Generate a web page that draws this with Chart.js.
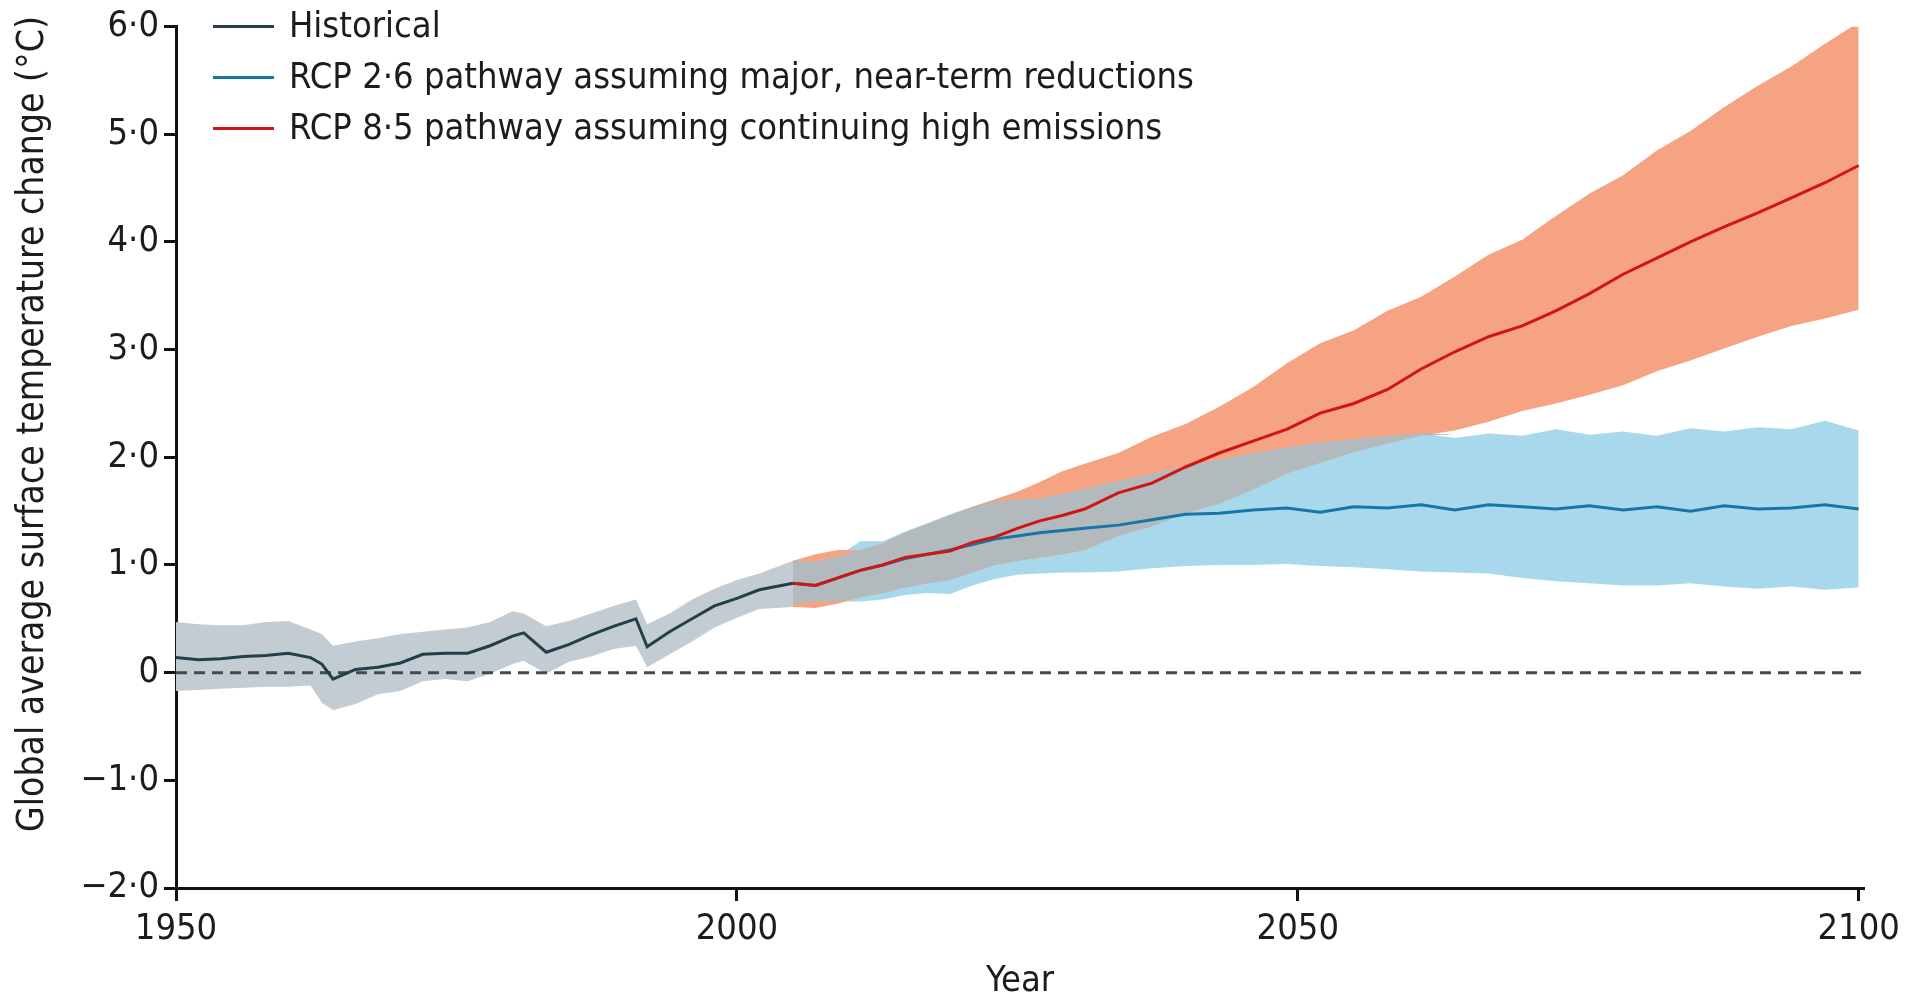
<!DOCTYPE html>
<html>
<head>
<meta charset="utf-8">
<title>Global average surface temperature change</title>
<script src="https://cdn.jsdelivr.net/npm/chart.js@4.4.1/dist/chart.umd.min.js"></script>
<style>
  html, body { margin: 0; padding: 0; background: #fff; }
  #chart { display: block; }
</style>
</head>
<body>
<canvas id="chart" width="1907" height="998"></canvas>
<script>
// Historical record
const histYears = [1950, 1952, 1954, 1956, 1958, 1960, 1962, 1963, 1964, 1966, 1968, 1970, 1972, 1974, 1976,
  1978, 1980, 1981, 1983, 1985, 1987, 1989, 1991, 1992, 1994, 1996, 1998, 2000, 2002, 2005];
const histMean = [0.14, 0.12, 0.13, 0.15, 0.16, 0.18, 0.14, 0.08, -0.06, 0.03, 0.05, 0.09, 0.17, 0.18, 0.18,
  0.25, 0.34, 0.37, 0.19, 0.26, 0.35, 0.43, 0.50, 0.24, 0.38, 0.50, 0.62, 0.69, 0.77, 0.83];
const histUpper = [0.47, 0.45, 0.44, 0.44, 0.47, 0.48, 0.40, 0.36, 0.25, 0.29, 0.32, 0.36, 0.38, 0.40, 0.42,
  0.47, 0.57, 0.55, 0.43, 0.48, 0.55, 0.62, 0.68, 0.45, 0.55, 0.68, 0.78, 0.86, 0.92, 1.04];
const histLower = [-0.17, -0.16, -0.15, -0.14, -0.13, -0.13, -0.12, -0.28, -0.35, -0.29, -0.20, -0.17, -0.08, -0.06, -0.08,
  -0.01, 0.08, 0.11, -0.01, 0.10, 0.15, 0.22, 0.25, 0.05, 0.17, 0.29, 0.42, 0.51, 0.59, 0.61];

// Projections
const projYears = [2005, 2007, 2009, 2011, 2013, 2015, 2017, 2019, 2021, 2023, 2025, 2027, 2029, 2031, 2034, 2037,
  2040, 2043, 2046, 2049, 2052, 2055, 2058, 2061, 2064, 2067, 2070, 2073, 2076, 2079, 2082, 2085, 2088, 2091,
  2094, 2097, 2100];
const rcp26Mean = [0.83, 0.81, 0.88, 0.95, 1.00, 1.06, 1.10, 1.14, 1.19, 1.24, 1.27, 1.30, 1.32, 1.34, 1.37, 1.42,
  1.47, 1.48, 1.51, 1.53, 1.49, 1.54, 1.53, 1.56, 1.51, 1.56, 1.54, 1.52, 1.55, 1.51, 1.54, 1.50, 1.55, 1.52,
  1.53, 1.56, 1.52];
const rcp26Upper = [1.04, 1.03, 1.08, 1.22, 1.22, 1.31, 1.39, 1.47, 1.54, 1.59, 1.61, 1.62, 1.66, 1.71, 1.78, 1.85,
  1.92, 1.98, 2.04, 2.09, 2.14, 2.17, 2.20, 2.22, 2.18, 2.22, 2.20, 2.26, 2.21, 2.24, 2.20, 2.27, 2.24, 2.28,
  2.26, 2.34, 2.25];
const rcp26Lower = [0.64, 0.66, 0.66, 0.66, 0.68, 0.72, 0.74, 0.73, 0.81, 0.87, 0.91, 0.92, 0.93, 0.93, 0.94, 0.97,
  0.99, 1.00, 1.00, 1.01, 0.99, 0.98, 0.96, 0.94, 0.93, 0.92, 0.88, 0.85, 0.83, 0.81, 0.81, 0.83, 0.80, 0.78,
  0.80, 0.77, 0.79];
const rcp85Mean = [0.83, 0.81, 0.88, 0.95, 1.00, 1.07, 1.10, 1.13, 1.21, 1.26, 1.34, 1.41, 1.46, 1.52, 1.67, 1.76,
  1.91, 2.04, 2.15, 2.26, 2.41, 2.50, 2.63, 2.82, 2.98, 3.12, 3.22, 3.36, 3.52, 3.70, 3.85, 4.00, 4.14, 4.27,
  4.41, 4.55, 4.71];
const rcp85Upper = [1.04, 1.10, 1.14, 1.14, 1.20, 1.30, 1.38, 1.46, 1.54, 1.61, 1.68, 1.77, 1.87, 1.94, 2.04, 2.19,
  2.31, 2.47, 2.65, 2.87, 3.06, 3.18, 3.36, 3.49, 3.68, 3.88, 4.02, 4.24, 4.45, 4.62, 4.85, 5.03, 5.25, 5.45,
  5.63, 5.84, 6.04];
const rcp85Lower = [0.61, 0.60, 0.64, 0.70, 0.74, 0.79, 0.83, 0.86, 0.93, 1.00, 1.04, 1.07, 1.10, 1.14, 1.27, 1.36,
  1.48, 1.57, 1.70, 1.85, 1.95, 2.05, 2.13, 2.20, 2.25, 2.33, 2.43, 2.50, 2.58, 2.67, 2.80, 2.90, 3.01, 3.12,
  3.22, 3.29, 3.37];

const yTicks = [-2, -1, 0, 1, 2, 3, 4, 5, 6];
const yTickLabels = ['\u22122\u00b70', '\u22121\u00b70', '0', '1\u00b70', '2\u00b70', '3\u00b70', '4\u00b70', '5\u00b70', '6\u00b70'];
const xTicks = [1950, 2000, 2050, 2100];
const xTickLabels = ['1950', '2000', '2050', '2100'];

const xTitle = 'Year';
const yTitle = 'Global average surface temperature change (\u00b0C)';
const labelHist = 'Historical';
const label26 = 'RCP 2\u00b76 pathway assuming major, near-term reductions';
const label85 = 'RCP 8\u00b75 pathway assuming continuing high emissions';

const FONT = "'DejaVu Sans Condensed', 'DejaVu Sans', sans-serif";
const FONT_SIZE = 36;
const INK = '#1c1c1c';

const C = {
  histLine: '#233f4b', histBand: '#c4ccd3',
  line26: '#1677a6', band26: '#a8d8eb',
  line85: '#d01515', band85: '#f5a382',
  overlap: '#b3babd', zero: '#3d4c52'
};

function pts(xs, ys) {
  return xs.map((x, i) => ({ x: x, y: ys[i] }));
}

// grey where the two projection ranges overlap
const overlapUpper = projYears.map((_, i) => Math.min(rcp26Upper[i], rcp85Upper[i]));
const overlapLower = projYears.map((_, i) => Math.max(rcp26Lower[i], rcp85Lower[i]));
for (let i = 0; i < projYears.length; i++) {
  if (overlapUpper[i] < overlapLower[i]) {
    const mid = (overlapUpper[i] + overlapLower[i]) / 2;
    overlapUpper[i] = mid;
    overlapLower[i] = mid;
  }
}

function band(data, order) {
  return { data: data, order: order, borderWidth: 0, pointRadius: 0, fill: false, tension: 0 };
}
function bandTop(data, color, order) {
  return { data: data, order: order, borderWidth: 0, pointRadius: 0, fill: '-1', backgroundColor: color, tension: 0 };
}
function line(label, data, color, order, rank) {
  return { label: label, data: data, order: order, borderColor: color, borderWidth: 3, pointRadius: 0,
    fill: false, tension: 0, legendRank: rank };
}

const datasets = [
  band(pts(projYears, rcp26Lower), 10),
  bandTop(pts(projYears, rcp26Upper), C.band26, 10),
  band(pts(projYears, rcp85Lower), 9),
  bandTop(pts(projYears, rcp85Upper), C.band85, 9),
  band(pts(projYears, overlapLower), 8),
  bandTop(pts(projYears, overlapUpper), C.overlap, 8),
  band(pts(histYears, histLower), 7),
  bandTop(pts(histYears, histUpper), C.histBand, 7),
  { data: [{ x: 1950, y: 0 }, { x: 2100.5, y: 0 }], order: 5, borderColor: C.zero, borderWidth: 3,
    borderDash: [11, 7], pointRadius: 0, fill: false },
  line(label26, pts(projYears, rcp26Mean), C.line26, 3, 1),
  line(label85, pts(projYears, rcp85Mean), C.line85, 2, 2),
  line(labelHist, pts(histYears, histMean), C.histLine, 1, 0)
];

// legend stacked in the top-left corner of the plot
const cornerLegend = {
  id: 'cornerLegend',
  afterDraw(chart) {
    const { ctx, chartArea } = chart;
    const items = chart.data.datasets.filter(d => d.legendRank !== undefined)
      .sort((a, b) => a.legendRank - b.legendRank);
    ctx.save();
    ctx.font = FONT_SIZE + 'px ' + FONT;
    ctx.textBaseline = 'middle';
    ctx.textAlign = 'left';
    items.forEach((d, i) => {
      const y = chartArea.top + i * 51;
      const x0 = chartArea.left + 37;
      ctx.strokeStyle = d.borderColor;
      ctx.lineWidth = 3;
      ctx.beginPath();
      ctx.moveTo(x0, y);
      ctx.lineTo(x0 + 61, y);
      ctx.stroke();
      ctx.fillStyle = INK;
      ctx.fillText(d.label, x0 + 76, y + 1);
    });
    ctx.restore();
  }
};

// y title sits a little above the centre of the axis
const yAxisTitle = {
  id: 'yAxisTitle',
  afterDraw(chart) {
    const { ctx } = chart;
    ctx.save();
    ctx.translate(33, 424);
    ctx.rotate(-Math.PI / 2);
    ctx.font = '37px ' + FONT;
    ctx.fillStyle = INK;
    ctx.textAlign = 'center';
    ctx.textBaseline = 'middle';
    ctx.fillText(yTitle, 0, 0);
    ctx.restore();
  }
};

const tickFont = { family: FONT, size: FONT_SIZE };

new Chart(document.getElementById('chart'), {
  type: 'line',
  data: { datasets: datasets },
  plugins: [cornerLegend, yAxisTitle],
  options: {
    responsive: false,
    devicePixelRatio: 1,
    animation: false,
    events: [],
    layout: { padding: { top: 24, right: 40, bottom: 0, left: 0 } },
    plugins: {
      legend: { display: false },
      tooltip: { enabled: false },
      filler: { propagate: false }
    },
    scales: {
      x: {
        type: 'linear',
        min: 1950,
        max: 2100.5,
        afterBuildTicks: s => { s.ticks = xTicks.map(v => ({ value: v })); },
        afterFit: s => { s.height = 110; },
        ticks: {
          callback: v => xTickLabels[xTicks.indexOf(v)],
          font: tickFont, color: INK, padding: 7, maxRotation: 0, autoSkip: false
        },
        grid: { drawOnChartArea: false, drawTicks: true, tickLength: 13, tickWidth: 3, tickColor: '#111' },
        border: { display: true, color: '#111', width: 3 },
        title: {
          display: true, text: xTitle, color: INK,
          font: { family: FONT, size: FONT_SIZE, lineHeight: 0.9 },
          padding: { top: 0, bottom: 0 }
        }
      },
      y: {
        type: 'linear',
        min: -2,
        max: 6,
        afterBuildTicks: s => { s.ticks = yTicks.map(v => ({ value: v })); },
        afterFit: s => { s.width = 176; },
        ticks: {
          callback: v => yTickLabels[yTicks.indexOf(v)],
          font: tickFont, color: INK, padding: 5, autoSkip: false
        },
        grid: { drawOnChartArea: false, drawTicks: true, tickLength: 12, tickWidth: 3, tickColor: '#111' },
        border: { display: true, color: '#111', width: 3 }
      }
    }
  }
});
</script>
</body>
</html>
